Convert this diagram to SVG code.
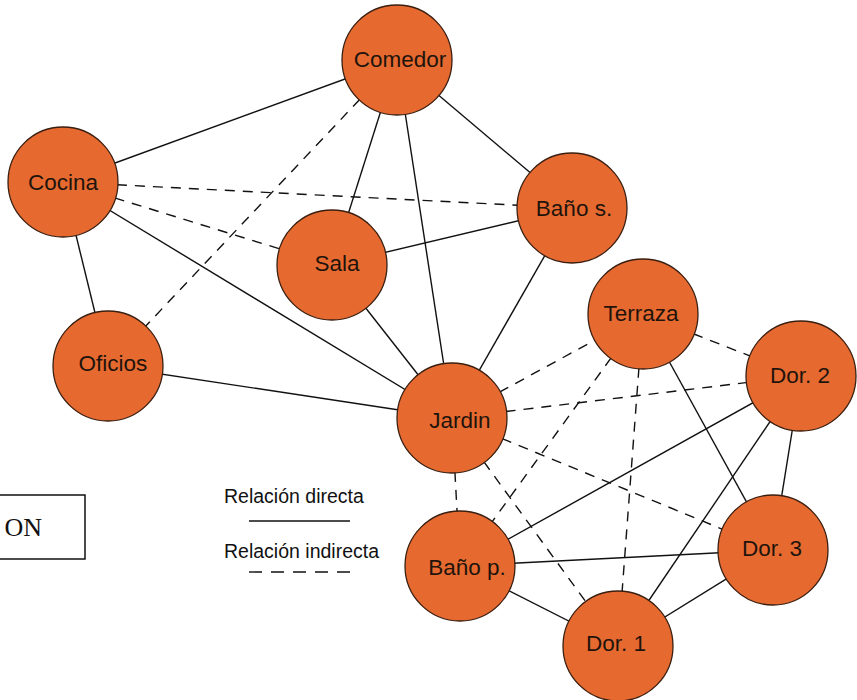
<svg xmlns="http://www.w3.org/2000/svg" width="857" height="700" viewBox="0 0 857 700">
  <style>
    .bg { fill: #ffffff; }
    .edge { stroke: #111111; stroke-width: 1.4; fill: none; }
    .dash { stroke-dasharray: 10 8; }
    .node circle { fill: #E66A30; stroke: #3a1e10; stroke-width: 1.3; }
    .node text { font-family: "Liberation Sans", Arial, sans-serif; font-size: 22.5px; fill: #1f140c; text-anchor: middle; }
    .legend text { font-family: "Liberation Sans", Arial, sans-serif; font-size: 19.5px; fill: #111111; }
    .box { fill: #ffffff; stroke: #111111; stroke-width: 1.5; }
    .boxtext { font-family: "Liberation Serif", "Times New Roman", serif; font-size: 26px; fill: #111111; }
  </style>
  <rect class="bg" x="0" y="0" width="857" height="700"/>

  <!-- side box -->
  <g id="side-box">
    <rect class="box" x="-20" y="495" width="105" height="64"/>
    <text class="boxtext" x="42" y="536" text-anchor="end">ON</text>
  </g>

  <!-- legend -->
  <g id="legend" class="legend">
    <text x="224" y="503">Relación directa</text>
    <line class="edge" x1="249" y1="521" x2="350" y2="521"/>
    <text x="224" y="558">Relación indirecta</text>
    <line class="edge" x1="249" y1="572" x2="350" y2="572" stroke-dasharray="13 9"/>
  </g>

  <!-- connectors -->
  <g id="connectors">
    <!-- direct relations -->
    <line class="edge" x1="63" y1="182" x2="397" y2="60"/>
    <line class="edge" x1="63" y1="182" x2="108" y2="366"/>
    <line class="edge" x1="63" y1="182" x2="452" y2="418"/>
    <line class="edge" x1="108" y1="366" x2="452" y2="418"/>
    <line class="edge" x1="397" y1="60" x2="332" y2="265"/>
    <line class="edge" x1="397" y1="60" x2="452" y2="418"/>
    <line class="edge" x1="397" y1="60" x2="572" y2="208"/>
    <line class="edge" x1="332" y1="265" x2="572" y2="208"/>
    <line class="edge" x1="332" y1="265" x2="452" y2="418"/>
    <line class="edge" x1="572" y1="208" x2="452" y2="418"/>
    <line class="edge" x1="643" y1="314" x2="773" y2="550"/>
    <line class="edge" x1="801" y1="376" x2="773" y2="550"/>
    <line class="edge" x1="801" y1="376" x2="618" y2="646"/>
    <line class="edge" x1="801" y1="376" x2="460" y2="566"/>
    <line class="edge" x1="460" y1="566" x2="773" y2="550"/>
    <line class="edge" x1="460" y1="566" x2="618" y2="646"/>
    <line class="edge" x1="773" y1="550" x2="618" y2="646"/>
    <!-- indirect relations -->
    <line class="edge dash" x1="63" y1="182" x2="572" y2="208"/>
    <line class="edge dash" x1="63" y1="182" x2="332" y2="265"/>
    <line class="edge dash" x1="397" y1="60" x2="108" y2="366"/>
    <line class="edge dash" x1="452" y1="418" x2="643" y2="314"/>
    <line class="edge dash" x1="452" y1="418" x2="801" y2="376"/>
    <line class="edge dash" x1="452" y1="418" x2="773" y2="550"/>
    <line class="edge dash" x1="452" y1="418" x2="460" y2="566"/>
    <line class="edge dash" x1="452" y1="418" x2="618" y2="646"/>
    <line class="edge dash" x1="643" y1="314" x2="460" y2="566"/>
    <line class="edge dash" x1="643" y1="314" x2="618" y2="646"/>
    <line class="edge dash" x1="643" y1="314" x2="801" y2="376"/>
  </g>

  <!-- rooms -->
  <g id="comedor" class="node"><circle cx="397" cy="60" r="55"/><text x="400" y="67">Comedor</text></g>
  <g id="cocina" class="node"><circle cx="63" cy="182" r="55"/><text x="63" y="190">Cocina</text></g>
  <g id="sala" class="node"><circle cx="332" cy="265" r="55"/><text x="337" y="271">Sala</text></g>
  <g id="bano-s" class="node"><circle cx="572" cy="208" r="55"/><text x="574" y="216">Baño s.</text></g>
  <g id="oficios" class="node"><circle cx="108" cy="366" r="55"/><text x="113" y="371">Oficios</text></g>
  <g id="terraza" class="node"><circle cx="643" cy="314" r="55"/><text x="641" y="321">Terraza</text></g>
  <g id="jardin" class="node"><circle cx="452" cy="418" r="55"/><text x="460" y="428">Jardin</text></g>
  <g id="dor-2" class="node"><circle cx="801" cy="376" r="55"/><text x="800" y="383">Dor. 2</text></g>
  <g id="dor-3" class="node"><circle cx="773" cy="550" r="55"/><text x="772" y="556">Dor. 3</text></g>
  <g id="bano-p" class="node"><circle cx="460" cy="566" r="55"/><text x="467" y="575">Baño p.</text></g>
  <g id="dor-1" class="node"><circle cx="618" cy="646" r="55"/><text x="616" y="651">Dor. 1</text></g>
</svg>
